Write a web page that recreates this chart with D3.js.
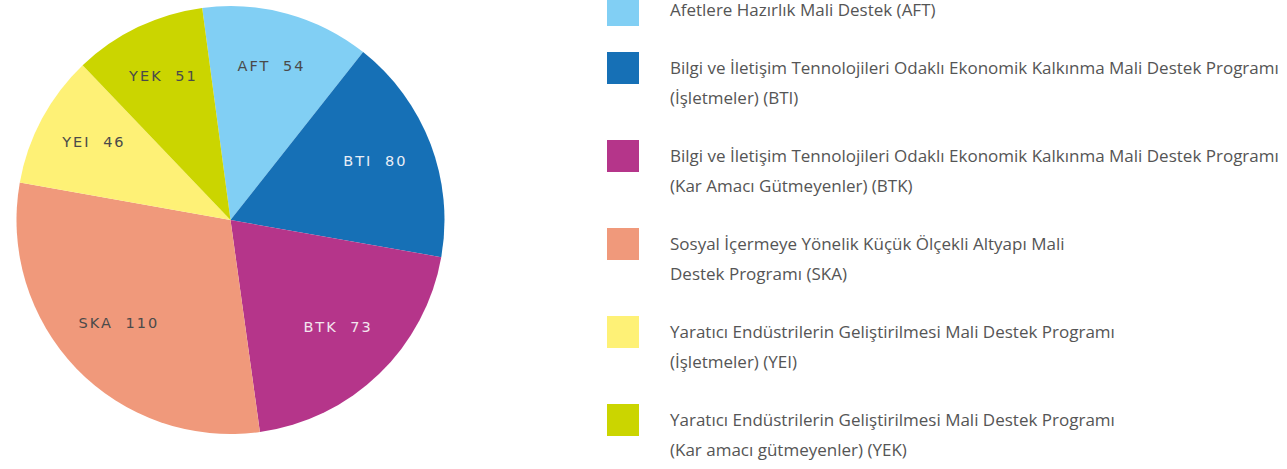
<!DOCTYPE html>
<html>
<head>
<meta charset="utf-8">
<script src="https://cdn.jsdelivr.net/npm/d3@7"></script>
<style>
  body { margin: 0; background: #fff; }
  svg { display: block; }
</style>
</head>
<body>
<svg></svg>
<script>
const width = 1287;
const height = 469;

// program codes, counts (as labelled) and the slice sizes as drawn in the original (degrees)
const codes = ["AFT", "BTI", "BTK", "SKA", "YEI", "YEK"];
const counts = [54, 80, 73, 110, 46, 51];
const shares = [45.9, 61.7, 72.1, 108, 36.2, 36.1];
const colors = ["#81cff4", "#1670b6", "#b5358a", "#f0997b", "#fef176", "#cbd500"];
const labelColors = ["#4a4a4a", "#e9eef6", "#f3e6ef", "#4a4a4a", "#4a4a4a", "#4a4a4a"];
const legendLines = [
    ["Afetlere Hazırlık Mali Destek (AFT)"],
    ["Bilgi ve İletişim Tennolojileri Odaklı Ekonomik Kalkınma Mali Destek Programı", "(İşletmeler) (BTI)"],
    ["Bilgi ve İletişim Tennolojileri Odaklı Ekonomik Kalkınma Mali Destek Programı", "(Kar Amacı Gütmeyenler) (BTK)"],
    ["Sosyal İçermeye Yönelik Küçük Ölçekli Altyapı Mali", "Destek Programı (SKA)"],
    ["Yaratıcı Endüstrilerin Geliştirilmesi Mali Destek Programı", "(İşletmeler) (YEI)"],
    ["Yaratıcı Endüstrilerin Geliştirilmesi Mali Destek Programı", "(Kar amacı gütmeyenler) (YEK)"]
];

const svg = d3.select("svg")
    .attr("width", width)
    .attr("height", height);

const data = codes.map((c, i) => ({ code: c, count: counts[i], share: shares[i], i: i }));

const cx = 230.5, cy = 220, radius = 214;
const start = -7.6 * Math.PI / 180;

const pie = d3.pie()
    .sort(null)
    .value(d => d.share)
    .startAngle(start)
    .endAngle(start + 2 * Math.PI);

const arc = d3.arc().innerRadius(0).outerRadius(radius);
// centroid of this arc sits at radius ~155
const labelArc = d3.arc().innerRadius(0).outerRadius(310);

const g = svg.append("g").attr("transform", `translate(${cx},${cy})`);

g.selectAll("path")
    .data(pie(data))
    .enter().append("path")
    .attr("d", arc)
    .attr("fill", d => colors[d.data.i]);

g.selectAll("text")
    .data(pie(data))
    .enter().append("text")
    .attr("transform", d => `translate(${labelArc.centroid(d)})`)
    .attr("text-anchor", "middle")
    .attr("dy", "0.05em")
    .attr("fill", d => labelColors[d.data.i])
    .style("font-family", "'DejaVu Sans', sans-serif")
    .style("font-size", "14.5px")
    .style("letter-spacing", "2px")
    .style("word-spacing", "6px")
    .text(d => d.data.code + " " + d.data.count);

// legend
const legend = svg.append("g");
const lineH = 30;
const gap = 28;
let y = 10;
data.forEach((d, i) => {
    const item = legend.append("g").attr("transform", `translate(0,${y})`);
    item.append("rect")
        .attr("x", 607)
        .attr("y", -16)
        .attr("width", 32)
        .attr("height", 32)
        .attr("fill", colors[i]);
    item.selectAll("text")
        .data(legendLines[i])
        .enter().append("text")
        .attr("x", 670)
        .attr("y", (t, k) => k * lineH)
        .attr("dy", "0.36em")
        .attr("fill", "#555")
        .style("font-family", "'Open Sans', sans-serif")
        .style("font-size", "17px")
        .text(t => t);
    y += legendLines[i].length * lineH + gap;
});
</script>
</body>
</html>
